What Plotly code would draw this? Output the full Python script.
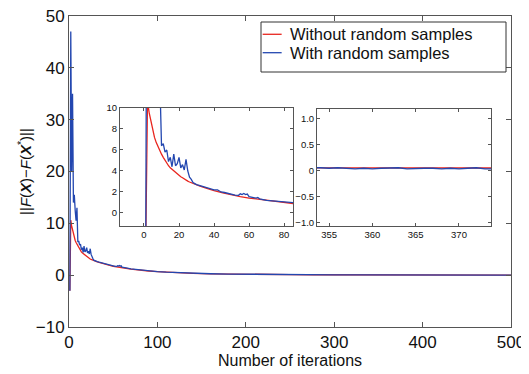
import plotly.graph_objects as go

# ---- data ----
red_x = list(range(1, 31)) + [32, 35, 38, 40, 45, 50, 55, 60, 65, 70, 75, 80, 85, 90,
                              100, 110, 120, 140, 160, 180, 200, 225, 250, 275, 300,
                              350, 400, 450, 500]
red_y = [-3, 10.6, 9.5, 8.7, 7.9, 7.2, 6.7, 6.3, 5.95, 5.6,
         5.3, 5.0, 4.75, 4.5, 4.3, 4.15, 4.0, 3.85, 3.7, 3.6,
         3.45, 3.35, 3.22, 3.12, 3.03, 2.95, 2.87, 2.8, 2.72, 2.65,
         2.55, 2.4, 2.22, 2.12, 1.92, 1.72, 1.55, 1.42, 1.3, 1.18, 1.08, 0.97, 0.88, 0.8,
         0.68, 0.57, 0.48, 0.35, 0.26, 0.2, 0.16, 0.12, 0.1, 0.08, 0.07,
         0.05, 0.04, 0.03, 0.02]

blue_x = (list(range(1, 31)) +
          [32, 34, 36, 38, 40, 42, 44, 46, 48, 50, 52, 54, 55, 56, 57, 58, 59, 60,
           62, 64, 65, 66, 70, 75, 80, 85, 90, 100, 110, 120, 140, 160, 180, 200,
           225, 250, 275, 300, 330, 350] +
          list(range(354, 375)) + [400, 450, 500])
blue_y = ([-3, 47, 20, 35, 14, 15.5, 12.5, 10.5, 13, 6.4,
           6.6, 5.8, 6.0, 4.9, 5.3, 4.4, 5.6, 4.5, 4.7, 5.3,
           4.3, 4.6, 4.1, 5.1, 4.0, 3.4, 3.2, 2.9, 2.8, 2.7] +
          [2.6, 2.5, 2.4, 2.3, 2.2, 2.2, 2.0, 1.95, 1.85, 1.78, 1.7, 1.68, 1.82, 1.75,
           1.85, 1.75, 1.8, 1.55, 1.5, 1.42, 1.48, 1.35, 1.2, 1.1, 0.98, 0.88, 0.81,
           0.7, 0.58, 0.5, 0.36, 0.27, 0.21, 0.17, 0.13, 0.1, 0.08, 0.07, 0.06, 0.05] +
          [0.05, 0.04, 0.05, 0.04, 0.03, 0.04, 0.03, 0.04, 0.05, 0.05, 0.03,
           0.04, 0.04, 0.04, 0.03, 0.04, 0.03, 0.04, 0.05, 0.03, 0.03] +
          [0.04, 0.03, 0.02])

main_xticks = [0, 100, 200, 300, 400, 500]
main_yticks = [-10, 0, 10, 20, 30, 40, 50]
in1_xticks = [0, 20, 40, 60, 80]
in1_yticks = [0, 2, 4, 6, 8, 10]
in2_xticks = [355, 360, 365, 370]
in2_yticks = [-1.0, -0.5, 0, 0.5, 1.0]
in2_ylabels = ["\u22121.0", "\u22120.5", "0", "0.5", "1.0"]

names = ["Without random samples", "With random samples"]

RED = "#e8251e"
BLUE = "#2347b0"
AX = "#555555"
FONT = "Liberation Sans, Arial, sans-serif"
colors = [RED, BLUE]

fig = go.Figure()
for ax_x, ax_y in [("x", "y"), ("x2", "y2"), ("x3", "y3")]:
    fig.add_trace(go.Scatter(x=red_x, y=red_y, mode="lines", name=names[0],
                             line=dict(color=RED, width=1.3), showlegend=False,
                             xaxis=ax_x, yaxis=ax_y))
    fig.add_trace(go.Scatter(x=blue_x, y=blue_y, mode="lines", name=names[1],
                             line=dict(color=BLUE, width=1.3), showlegend=False,
                             xaxis=ax_x, yaxis=ax_y))

# legend box (MATLAB-style) drawn in paper coordinates
fig.add_shape(type="rect", xref="paper", yref="paper", x0=0.4344, x1=0.9887,
              y0=0.8199, y1=0.9807, fillcolor="white",
              line=dict(color="#333333", width=1), layer="above")
leg_y = [0.9412, 0.882]
for i in range(2):
    fig.add_shape(type="line", xref="paper", yref="paper", x0=0.4382, x1=0.4811,
                  y0=leg_y[i], y1=leg_y[i], line=dict(color=colors[i], width=1.3),
                  layer="above")
    fig.add_annotation(xref="paper", yref="paper", x=0.4955, y=leg_y[i],
                       xanchor="left", yanchor="middle", text=names[i],
                       showarrow=False, font=dict(size=16.5, family=FONT, color="#111111"))

common = dict(showline=True, linecolor=AX, linewidth=1, mirror="ticks",
              ticks="inside", tickcolor=AX, showgrid=False, zeroline=False,
              automargin=False, ticklabeloverflow="allow")

fig.update_layout(
    width=521, height=366,
    margin=dict(l=61, r=18, t=8, b=47),
    paper_bgcolor="white", plot_bgcolor="white",
    font=dict(family=FONT, color="#111111"),
    showlegend=False,
    xaxis=dict(domain=[0, 1], range=[0, 500], tickvals=main_xticks, ticklen=5,
               tickfont=dict(size=17), title=dict(text="Number of iterations",
               font=dict(size=16), standoff=0), **common),
    yaxis=dict(domain=[0, 1], range=[-10, 50], tickvals=main_yticks, ticklen=5,
               tickfont=dict(size=17),
               title=dict(text="||<i>F</i>(<b><i>X</i></b>)\u2212<i>F</i>(<b><i>X</i></b><sup>*</sup>)||",
                          font=dict(size=15), standoff=0), **common),
    xaxis2=dict(domain=[0.1154, 0.5068], range=[-13.7, 85.1], tickvals=in1_xticks,
                ticklen=3, tickfont=dict(size=9.5), anchor="y2", **common),
    yaxis2=dict(domain=[0.3248, 0.7042], range=[-1.24, 10], tickvals=in1_yticks,
                ticklen=3, tickfont=dict(size=9.5), anchor="x2", **common),
    xaxis3=dict(domain=[0.5611, 0.9548], range=[353.6, 373.7], tickvals=in2_xticks,
                ticklen=3, tickfont=dict(size=9.5), anchor="y3", **common),
    yaxis3=dict(domain=[0.3248, 0.7010], range=[-1.07, 1.18], tickvals=in2_yticks,
                ticktext=in2_ylabels, ticklen=3, tickfont=dict(size=9.5), anchor="x3",
                **common),
)

fig.write_html("out.html")
